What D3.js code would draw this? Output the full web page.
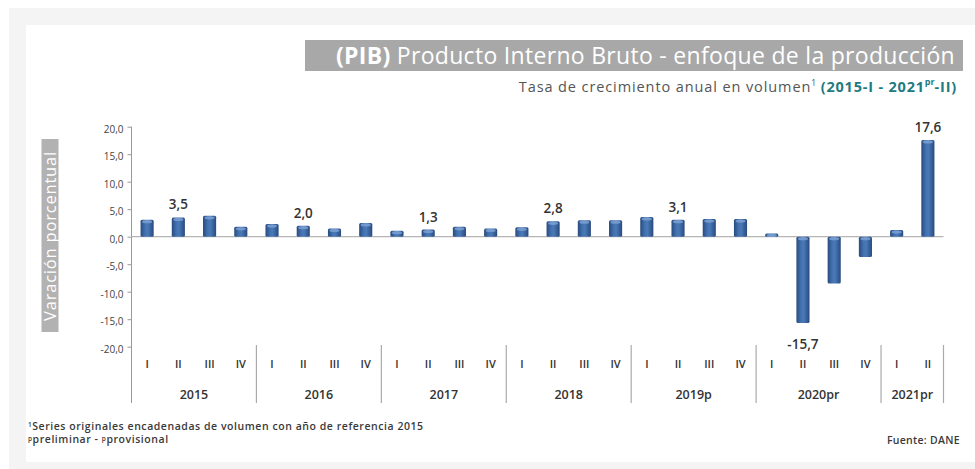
<!DOCTYPE html>
<html><head><meta charset="utf-8">
<script src="https://cdn.jsdelivr.net/npm/d3@7"></script>
<style>
html,body{margin:0;padding:0;background:#fff;}
svg{display:block;font-family:"Open Sans",sans-serif;}
</style></head>
<body><svg id="c" width="975" height="469"></svg>
<script>
const years = ["2015","2016","2017","2018","2019p","2020pr","2021pr"];
const quartersPerYear = [4,4,4,4,4,4,2];
const quarterNames = ["I","II","III","IV"];
const values = [3.1,3.5,3.8,1.8, 2.3,2.0,1.5,2.5, 1.1,1.3,1.8,1.5, 1.7,2.8,3.0,3.0, 3.6,3.1,3.2,3.2, 0.6,-15.7,-8.5,-3.7, 1.2,17.6];
const labelled = [1,5,9,13,17,21,25];
const yTicks = [20,15,10,5,0,-5,-10,-15,-20];

const cats = [];
years.forEach((y,yi)=>{for(let q=0;q<quartersPerYear[yi];q++) cats.push({year:y,q:quarterNames[q],key:y+"-"+q});});
const data = cats.map((c,i)=>({...c,v:values[i],i}));

const svg = d3.select("#c");
const fmt = v => d3.format(".1f")(v).replace(".",",").replace("−","-");

// frame
svg.append("rect").attr("x",9).attr("y",8).attr("width",966).attr("height",461).attr("fill","#f4f4f4");
svg.append("rect").attr("x",26).attr("y",25).attr("width",949).attr("height",437).attr("fill","#fff");

const defs = svg.append("defs");
const g1 = defs.append("linearGradient").attr("id","barg").attr("x1","0").attr("x2","1").attr("y1","0").attr("y2","0");
[["0%","#284a7e"],["35%","#4372b0"],["55%","#4a79b7"],["100%","#284a7e"]].forEach(s=>g1.append("stop").attr("offset",s[0]).attr("stop-color",s[1]));

const x = d3.scaleBand().domain(data.map(d=>d.key)).range([131.5,943.5]).paddingInner(0.58).paddingOuter(0.29);
const xb = d3.scaleBand().domain(data.map(d=>d.key)).range([131.5,943.5]);
const y = d3.scaleLinear().domain([-20,20]).range([346.7,126.7]);

// title
svg.append("rect").attr("x",305).attr("y",40).attr("width",658).attr("height",31).attr("fill","#a8a8a8");
const t = svg.append("text").attr("x",955).attr("y",64).attr("text-anchor","end").attr("fill","#fff")
  .attr("font-size",23).attr("letter-spacing",0.3);
t.append("tspan").attr("font-weight","bold").text("(PIB)");
t.append("tspan").text(" Producto Interno Bruto  - enfoque de la producción");
const st = svg.append("text").attr("x",957).attr("y",92).attr("text-anchor","end").attr("font-size",14.5);
st.append("tspan").attr("fill","#555").attr("letter-spacing",0.9).text("Tasa de crecimiento anual en volumen");
st.append("tspan").attr("fill","#555").attr("font-size",8.5).attr("dy",-6).text("1");
st.append("tspan").attr("fill","#1f7a82").attr("font-weight","bold").attr("letter-spacing",0.8).attr("dy",6).text("  (2015-I - 2021");
st.append("tspan").attr("fill","#1f7a82").attr("font-weight","bold").attr("font-size",9).attr("dy",-7).text("pr");
st.append("tspan").attr("fill","#1f7a82").attr("font-weight","bold").attr("letter-spacing",0.8).attr("dy",7).text("-II)");

// y label box
svg.append("rect").attr("x",41.5).attr("y",139).attr("width",17).attr("height",193).attr("fill","#b2b2b2");
svg.append("text").attr("transform","translate(56,236) rotate(-90)").attr("text-anchor","middle")
  .attr("fill","#fff").attr("font-size",16.5).attr("letter-spacing",0.8).text("Varación porcentual");

// y axis
const ya = svg.append("g").attr("transform","translate(131.5,0)")
  .call(d3.axisLeft(y).tickValues(yTicks).tickSize(4).tickPadding(4).tickFormat(fmt));
ya.select(".domain").remove();
ya.selectAll(".tick line").attr("stroke","#999");
ya.selectAll(".tick text").attr("fill","#444").attr("font-size",10).attr("font-family","Open Sans").attr("dy","0.55em");
svg.append("line").attr("x1",131.5).attr("x2",131.5).attr("y1",126.7).attr("y2",403).attr("stroke","#999").attr("stroke-width",1);

// zero line
svg.append("line").attr("x1",131.5).attr("x2",943.5).attr("y1",y(0)).attr("y2",y(0)).attr("stroke","#b5b5b5").attr("stroke-width",1.3);

// bars
const bars = svg.append("g");
bars.selectAll("rect.bar").data(data).join("rect").attr("class","bar")
  .attr("x",d=>x(d.key)).attr("width",x.bandwidth())
  .attr("y",d=>y(Math.max(0,d.v))).attr("height",d=>Math.abs(y(d.v)-y(0)))
  .attr("rx",1.5).attr("fill","url(#barg)");
bars.selectAll("ellipse.hl").data(data).join("ellipse").attr("class","hl")
  .attr("cx",d=>x(d.key)+x.bandwidth()/2).attr("cy",d=>y(Math.max(0,d.v))+2)
  .attr("rx",x.bandwidth()/2-1.5).attr("ry",1.6).attr("fill","#7fa3d4").attr("opacity",0.8);

// value labels
svg.append("g").selectAll("text").data(data.filter(d=>labelled.includes(d.i))).join("text")
  .attr("x",d=>x(d.key)+x.bandwidth()/2)
  .attr("y",d=>d.v>=0 ? y(d.v)-8 : y(d.v)+26)
  .attr("text-anchor","middle").attr("font-size",13.5).attr("font-weight",600).attr("fill","#333")
  .text(d=>fmt(d.v));

// quarter labels
svg.append("g").selectAll("text").data(data).join("text")
  .attr("x",d=>xb(d.key)+xb.bandwidth()/2).attr("y",368)
  .attr("text-anchor","middle").attr("font-size",11).attr("font-weight",600).attr("fill","#333")
  .attr("font-family","Liberation Sans Narrow, Open Sans").text(d=>d.q);

// year labels and separators
let idx=0;
const yg = svg.append("g");
years.forEach((yr,yi)=>{
  const first = data[idx].key, last = data[idx+quartersPerYear[yi]-1].key;
  const x0 = xb(first), x1 = xb(last)+xb.bandwidth();
  yg.append("text").attr("x",(x0+x1)/2).attr("y",399).attr("text-anchor","middle")
    .attr("font-size",12.5).attr("font-weight",600).attr("fill","#333").text(yr);
  yg.append("line").attr("x1",x1).attr("x2",x1).attr("y1",345).attr("y2",403).attr("stroke","#aaa").attr("stroke-width",1.2);
  idx += quartersPerYear[yi];
});

// footnotes
const f1 = svg.append("text").attr("x",28).attr("y",430).attr("font-size",10.5).attr("font-weight",600).attr("letter-spacing",0.55).attr("fill","#3a3a3a");
f1.append("tspan").attr("font-size",6.5).attr("dy",-3).text("1");
f1.append("tspan").attr("dy",3).text("Series originales encadenadas de volumen con año de referencia 2015");
const f2 = svg.append("text").attr("x",28).attr("y",443).attr("font-size",10.5).attr("font-weight",600).attr("letter-spacing",0.55).attr("fill","#3a3a3a");
f2.append("tspan").attr("font-size",6.5).attr("dy",-2).text("p");
f2.append("tspan").attr("dy",2).text("preliminar - ");
f2.append("tspan").attr("font-size",6.5).attr("dy",-2).text("p");
f2.append("tspan").attr("dy",2).text("provisional");
svg.append("text").attr("x",960).attr("y",444).attr("text-anchor","end").attr("font-size",10.5).attr("font-weight",600).attr("letter-spacing",0.3).attr("fill","#3a3a3a").text("Fuente: DANE");
</script></body></html>
